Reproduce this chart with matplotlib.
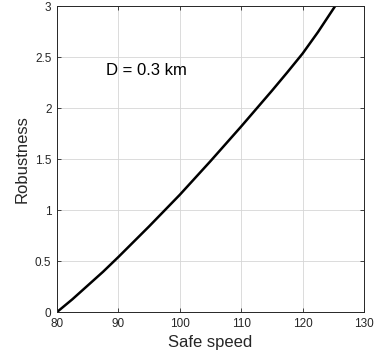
import numpy as np
import matplotlib
matplotlib.use("Agg")
import matplotlib.pyplot as plt

speed = [80, 82.5, 85, 87.5, 90, 92.5, 95, 97.5, 100, 102.5, 105, 107.5,
         110, 112.5, 115, 117.5, 120, 122.5, 125.3]
robust = [0, 0.125, 0.26, 0.395, 0.54, 0.69, 0.84, 0.995, 1.15, 1.315, 1.48, 1.65,
          1.82, 1.995, 2.17, 2.35, 2.535, 2.745, 3.0]
xticks = [80, 90, 100, 110, 120, 130]
yticks = [0, 0.5, 1, 1.5, 2, 2.5, 3]
ytick_labels = ["0", "0.5", "1", "1.5", "2", "2.5", "3"]

plt.rcParams["font.family"] = ["Liberation Sans", "DejaVu Sans"]

fig = plt.figure(figsize=(3.76, 3.62), dpi=100)
ax = fig.add_axes([0.1516, 0.138, 0.8164, 0.845])

ax.plot(speed, robust, color="black", lw=1.8, solid_joinstyle="round")
ax.set_xlim(80, 130)
ax.set_ylim(0, 3)
ax.set_xticks(xticks)
ax.set_yticks(yticks)
ax.set_yticklabels(ytick_labels)
ax.tick_params(direction="in", top=True, right=True, labelsize=8.5,
               length=3, width=0.6, colors="#262626")
ax.tick_params(axis="x", pad=4)
ax.tick_params(axis="y", pad=4)
ax.grid(True, color="#d6d6d6", lw=0.6)
ax.set_axisbelow(True)
for s in ax.spines.values():
    s.set_color("#262626")
    s.set_linewidth(0.7)

ax.set_xlabel("Safe speed", fontsize=12, color="#262626", labelpad=4)
ax.set_ylabel("Robustness", fontsize=12, color="#262626", labelpad=4)
ax.text(88, 2.37, "D = 0.3 km", fontsize=12, color="black", va="center", ha="left")

fig.savefig("out.png", dpi=100, facecolor="white")
